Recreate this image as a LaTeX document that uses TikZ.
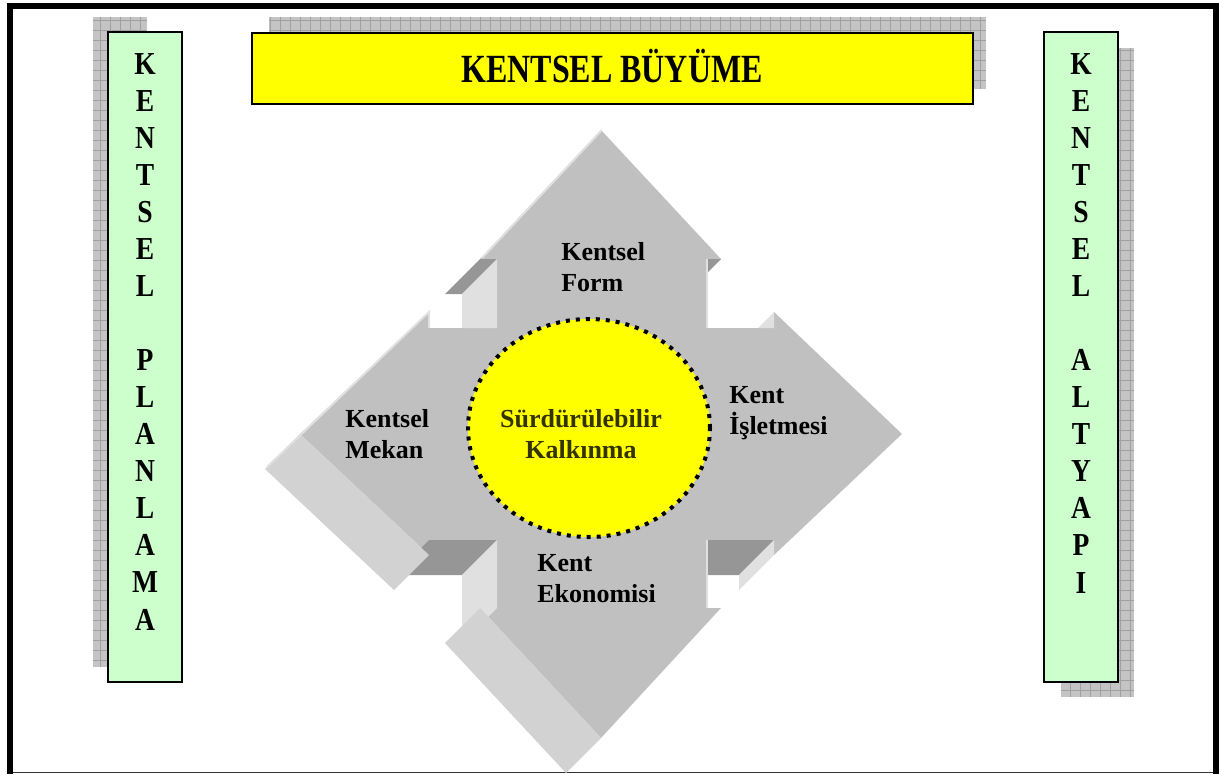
\documentclass[tikz,border=0pt]{standalone}
\usepackage{fontspec}
\setmainfont{Liberation Serif}
\newfontfamily\narrowserif[FakeStretch=0.86]{Liberation Serif}
\newfontfamily\titleserif[FakeStretch=0.8]{Liberation Serif}
\definecolor{paleGreen}{HTML}{CCFFCC}
\definecolor{faceGray}{HTML}{C0C0C0}
\definecolor{sideGray}{HTML}{D2D2D2}
\definecolor{liteGray}{HTML}{E0E0E0}
\definecolor{darkGray}{HTML}{969696}
\definecolor{shadowGray}{HTML}{C4C4C4}
\definecolor{gridGray}{HTML}{A0A0A0}
\definecolor{kernText}{HTML}{333300}
\definecolor{pureYellow}{HTML}{FFFF00}
\begin{document}
\begin{tikzpicture}[x=0.75pt,y=-0.75pt,
  sidebox/.style={draw=black,line width=1.5pt,fill=paleGreen},
  letters/.style={font=\narrowserif\bfseries\fontsize{24}{27.8}\selectfont,align=center,anchor=base,inner sep=0pt},
  armlabel/.style={font=\bfseries\fontsize{19.5}{23.25}\selectfont,align=left,anchor=base west,inner sep=0pt},
  gloss/.style={liteGray,line width=1.5pt}]

\useasboundingbox (0,0) rectangle (1219,774);

\def\frontface{(601,130) -- (721,259) -- (706,259) -- (706,328) -- (774,328) -- (774,312)
  -- (902,434) -- (774,555) -- (774,540) -- (706,540) -- (706,608) -- (721,608)
  -- (601,738) -- (480,608) -- (497,608) -- (497,540) -- (429,540) -- (429,555)
  -- (300,434) -- (429,312) -- (429,328) -- (497,328) -- (497,259) -- (480,259) -- cycle}

\fill[black] (7,3) rectangle (1219,9);
\fill[black] (7,3) rectangle (13,774);
\fill[black] (1213,3) rectangle (1219,774);
\draw[black!80,line width=0.75pt] (13,772) -- (1213,772);

\begin{scope}
\clip (93,17) rectangle (147,667);
\fill[shadowGray] (93,17) rectangle (147,667);
\draw[gridGray,step=7.5pt] (93,17) grid (147,667);
\end{scope}

\begin{scope}
\clip (269,17) rectangle (986,89);
\fill[shadowGray] (269,17) rectangle (986,89);
\draw[gridGray,step=7.5pt] (269,17) grid (986,89);
\end{scope}

\begin{scope}
\clip (1061,48) rectangle (1134,697);
\fill[shadowGray] (1061,48) rectangle (1134,697);
\draw[gridGray,step=7.5pt] (1061,48) grid (1134,697);
\end{scope}

\draw[sidebox] (108,32) rectangle (182,682);
\draw[sidebox] (1044,32) rectangle (1118,682);
\draw[line width=1.5pt,fill=pureYellow] (252,33) rectangle (973,104);

\node[letters] (planlama) at (145,630) {K\\E\\N\\T\\S\\E\\L\\ \\P\\L\\A\\N\\L\\A\\M\\A};
\node[letters] (altyapi) at (1081,593) {K\\E\\N\\T\\S\\E\\L\\ \\A\\L\\T\\Y\\A\\P\\I};
\node[font=\titleserif\bfseries\fontsize{30}{36}\selectfont,anchor=base,inner sep=0pt] (buyume) at (612,82) {KENTSEL BÜYÜME};

\fill[faceGray] \frontface;
\fill[darkGray] (480,259) -- (497,259) -- (462,294) -- (445,294) -- cycle;
\fill[liteGray] (497,259) -- (497,328) -- (462,328) -- (462,294) -- cycle;
\fill[darkGray] (706,259) -- (721,259) -- (706,274) -- cycle;
\fill[liteGray] (774,312) -- (774,328) -- (758,328) -- cycle;
\fill[darkGray] (429,540) -- (497,540) -- (462,575) -- (394,575) -- cycle;
\fill[sideGray] (300,434) -- (429,555) -- (394,590) -- (265,469) -- cycle;
\fill[darkGray] (706,540) -- (774,540) -- (739,575) -- (706,575) -- cycle;
\fill[liteGray] (774,540) -- (774,555) -- (739,590) -- (739,575) -- cycle;
\fill[liteGray] (497,540) -- (497,608) -- (462,643) -- (462,575) -- cycle;
\fill[sideGray] (480,608) -- (601,738) -- (566,773) -- (445,643) -- cycle;

\draw[gloss] (267,467) -- (429,312) -- (429,328);
\draw[gloss] (482,258) -- (601,131);
\draw[gloss] (707,259) -- (707,328);
\draw[gloss] (707,540) -- (707,608);

\fill[pureYellow] (589,428) ellipse [x radius=90.75pt, y radius=81.75pt];
\draw[black,line width=3pt,dash pattern=on 3pt off 4.5pt] (589,428) ellipse [x radius=90.75pt, y radius=81.75pt];

\node[armlabel] (form) at (561,291) {Kentsel\\Form};
\node[armlabel] (mekan) at (345,458) {Kentsel\\Mekan};
\node[armlabel] (isletme) at (729,434) {Kent\\İşletmesi};
\node[armlabel] (ekonomi) at (537,602) {Kent\\Ekonomisi};
\node[armlabel,align=center,anchor=base,text=kernText] (kalkinma) at (581,458) {Sürdürülebilir\\Kalkınma};

\end{tikzpicture}
\end{document}
